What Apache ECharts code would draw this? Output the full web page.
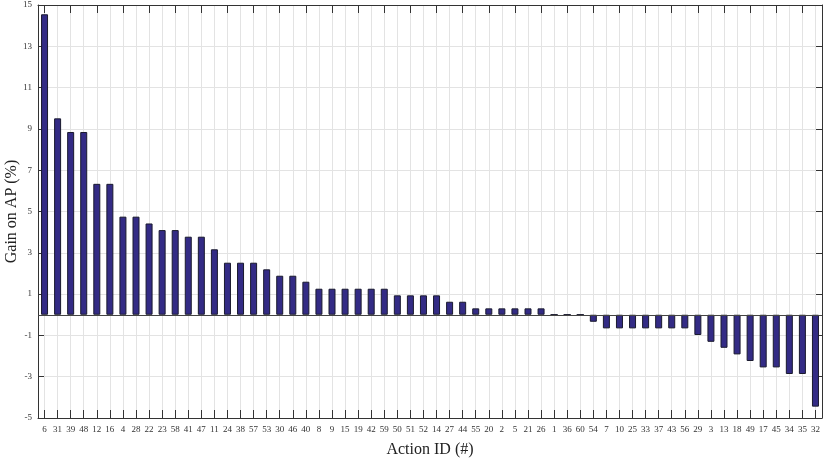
<!DOCTYPE html>
<html>
<head>
<meta charset="utf-8">
<script src="https://cdn.jsdelivr.net/npm/echarts@6/dist/echarts.min.js"></script>
<style>
  html, body { margin: 0; padding: 0; background: #fff; }
  #chart { width: 831px; height: 458px; }
</style>
</head>
<body>
<div id="chart"></div>
<script>
// action ids, sorted by gain
const actionIds = ['6', '31', '39', '48', '12', '16', '4', '28', '22', '23',
  '58', '41', '47', '11', '24', '38', '57', '53', '30', '46',
  '40', '8', '9', '15', '19', '42', '59', '50', '51', '52',
  '14', '27', '44', '55', '20', '2', '5', '21', '26', '1',
  '36', '60', '54', '7', '10', '25', '33', '37', '43', '56',
  '29', '3', '13', '18', '49', '17', '45', '34', '35', '32']

// gain on AP (%)
const gains = [14.55, 9.51, 8.85, 8.85, 6.34, 6.34, 4.75, 4.75, 4.42, 4.10,
  4.10, 3.78, 3.78, 3.17, 2.52, 2.52, 2.52, 2.20, 1.89, 1.89,
  1.60, 1.26, 1.26, 1.26, 1.26, 1.26, 1.26, 0.94, 0.94, 0.94,
  0.94, 0.63, 0.63, 0.31, 0.31, 0.31, 0.31, 0.31, 0.31, 0,
  0, 0, -0.34, -0.66, -0.66, -0.66, -0.66, -0.66, -0.66, -0.66,
  -0.98, -1.31, -1.60, -1.92, -2.24, -2.55, -2.55, -2.87, -2.87, -4.45]

const yTicks = { min: -5, max: 15, step: 2 }

const font = 'Liberation Serif'
const frame = '#333'
const grid = '#e3e3e3'

const chart = echarts.init(document.getElementById('chart'))

const option = {
  animation: false,
  textStyle: { fontFamily: font },
  grid: { left: 38, right: 9, top: 5, bottom: 40, containLabel: false, outerBoundsMode: 'none' },
  xAxis: [
    {
      type: 'category',
      data: actionIds,
      position: 'bottom',
      name: 'Action ID (#)',
      nameLocation: 'middle',
      nameGap: 24,
      nameTextStyle: { fontFamily: font, fontSize: 16, color: '#222' },
      axisLine: { onZero: false, lineStyle: { color: frame, width: 1 } },
      axisTick: { show: true, inside: true, length: 8, alignWithLabel: true, lineStyle: { color: frame } },
      axisLabel: { interval: 0, fontFamily: font, fontSize: 9, color: '#333', margin: 7 },
      splitLine: { show: true, alignWithLabel: true, interval: 0, lineStyle: { color: grid, width: 1 } }
    },
    {
      type: 'category',
      data: actionIds,
      position: 'top',
      axisLine: { onZero: false, lineStyle: { color: frame, width: 1 } },
      axisTick: { show: true, inside: true, length: 8, alignWithLabel: true, lineStyle: { color: frame } },
      axisLabel: { show: false },
      splitLine: { show: false }
    }
  ],
  yAxis: [
    {
      type: 'value',
      min: yTicks.min,
      max: yTicks.max,
      interval: yTicks.step,
      name: 'Gain on AP (%)',
      nameLocation: 'middle',
      nameGap: 18,
      nameMoveOverlap: false,
      nameTextStyle: { fontFamily: font, fontSize: 16, color: '#222' },
      axisLine: { show: true, lineStyle: { color: frame, width: 1 } },
      axisTick: { show: true, inside: true, length: 6, lineStyle: { color: frame } },
      axisLabel: { fontFamily: font, fontSize: 9, color: '#333', margin: 6 },
      splitLine: { show: true, lineStyle: { color: grid, width: 1 } }
    },
    {
      type: 'value',
      min: yTicks.min,
      max: yTicks.max,
      interval: yTicks.step,
      position: 'right',
      axisLine: { show: true, lineStyle: { color: frame, width: 1 } },
      axisTick: { show: true, inside: true, length: 6, lineStyle: { color: frame } },
      axisLabel: { show: false },
      splitLine: { show: false }
    }
  ],
  series: [
    {
      type: 'bar',
      data: gains,
      barWidth: 7,
      itemStyle: { color: '#332b85', borderColor: '#1a1a2e', borderWidth: 1 },
      markLine: {
        symbol: 'none',
        silent: true,
        label: { show: false },
        lineStyle: { color: '#444', type: 'solid', width: 1 },
        data: [{ yAxis: 0 }]
      }
    }
  ]
}

chart.setOption(option)
</script>
</body>
</html>
